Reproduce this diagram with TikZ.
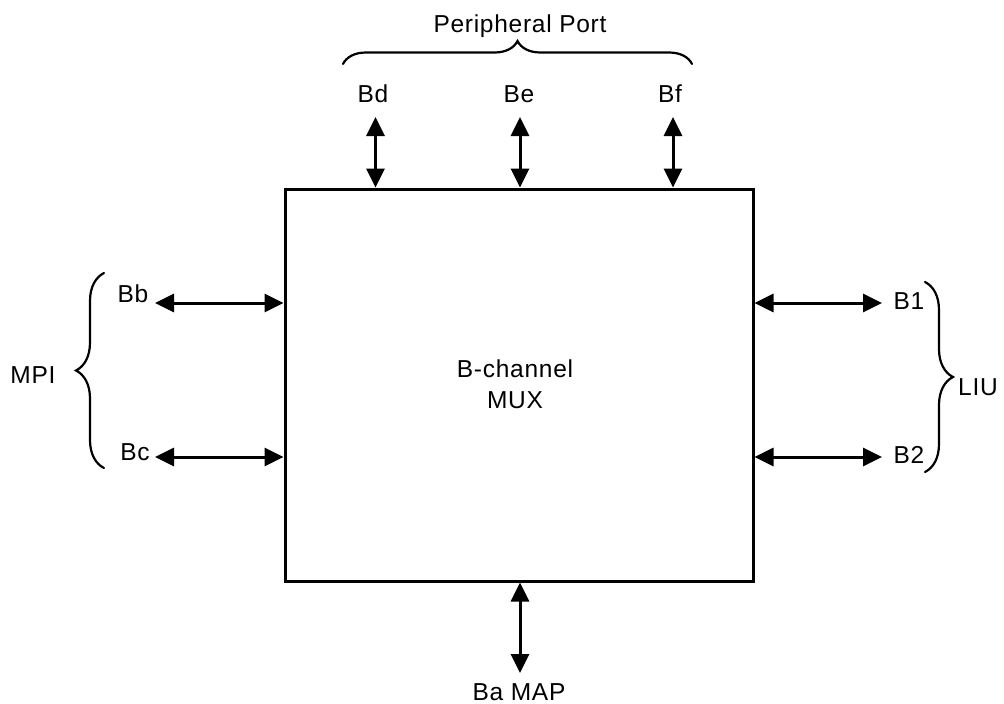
\documentclass[tikz,border=0pt]{standalone}
\usepackage{fontspec}
\setmainfont{Liberation Sans}[LetterSpace=3]
\usetikzlibrary{arrows.meta,decorations.pathreplacing}
\begin{document}
\begin{tikzpicture}[x=1pt,y=1pt,
  lbl/.style={font=\fontsize{24.5}{31}\selectfont,inner sep=0pt,anchor=base},
  biarrow/.style={{Triangle[length=19pt,width=18pt]}-{Triangle[length=19pt,width=18pt]},line width=3pt},
  bracepath/.style={decorate,line width=2.2pt,line cap=round}]
\useasboundingbox (0,0) rectangle (1004,-704);
\node[draw,line width=3pt,minimum width=468pt,minimum height=392pt,inner sep=0pt] (mux) at (519,-385) {};
\node[lbl,anchor=center,align=center] (muxlbl) at (515,-384) {B-channel\\MUX};
% top
\node[lbl] (pp) at (520,-32) {Peripheral Port};
\node[lbl] (bd) at (373,-102) {Bd};
\node[lbl] (be) at (519,-102) {Be};
\node[lbl] (bf) at (670,-102) {Bf};
\coordinate (tbd) at (375.5,-117);
\coordinate (tbe) at (520,-117);
\coordinate (tbf) at (673,-117);
\draw[biarrow] (tbd) -- (tbd |- mux.north);
\draw[biarrow] (tbe) -- (tbe |- mux.north);
\draw[biarrow] (tbf) -- (tbf |- mux.north);
\draw[bracepath,decoration={brace,amplitude=23pt}] (343,-64) -- (692,-64);
% left
\node[lbl] (bb) at (133,-302) {Bb};
\node[lbl] (bc) at (135,-460) {Bc};
\node[lbl] (mpi) at (33,-383) {MPI};
\coordinate (lbb) at (155,-303);
\coordinate (lbc) at (155,-457);
\draw[biarrow] (lbb) -- (lbb -| mux.west);
\draw[biarrow] (lbc) -- (lbc -| mux.west);
\draw[bracepath,decoration={brace,amplitude=28pt}] (104,-468) -- (104,-273);
% right
\node[lbl] (b1) at (909,-309) {B1};
\node[lbl] (b2) at (909,-463) {B2};
\node[lbl] (liu) at (978,-395) {LIU};
\coordinate (rb1) at (882,-303);
\coordinate (rb2) at (882,-457);
\draw[biarrow] (rb1 -| mux.east) -- (rb1);
\draw[biarrow] (rb2 -| mux.east) -- (rb2);
\draw[bracepath,decoration={brace,amplitude=28pt}] (925,-282) -- (925,-472);
% bottom
\node[lbl] (ba) at (519,-700) {Ba MAP};
\coordinate (bba) at (520,-673);
\draw[biarrow] (mux.south -| bba) -- (bba);
\end{tikzpicture}
\end{document}
